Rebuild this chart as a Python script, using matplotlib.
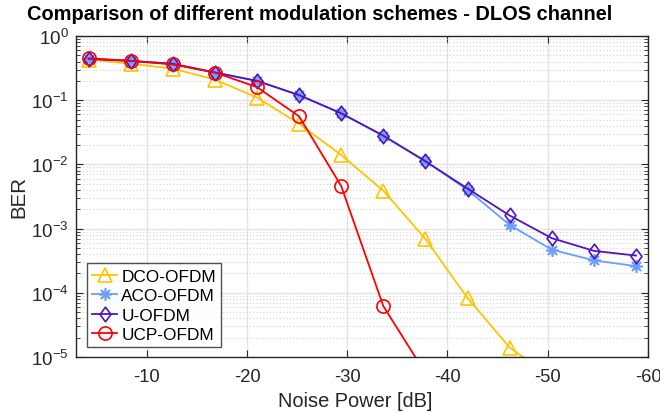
import numpy as np
import matplotlib
matplotlib.use("Agg")
import matplotlib.pyplot as plt
from matplotlib.path import Path
from matplotlib.ticker import LogLocator, NullFormatter

plt.rcParams['font.family'] = ['Liberation Sans', 'DejaVu Sans']
plt.rcParams['mathtext.fontset'] = 'custom'
plt.rcParams['mathtext.rm'] = 'Liberation Sans'
plt.rcParams['axes.unicode_minus'] = False

# noise power [dB]
noise_db = [-4.2, -8.4, -12.6, -16.8, -21.0, -25.2, -29.4, -33.6, -37.8,
            -42.0, -46.2, -50.4, -54.6, -58.8]

ber_dco = [0.43, 0.37, 0.31, 0.21, 0.11, 0.043, 0.014, 0.0039, 6.9e-4,
           8.3e-5, 1.4e-5, 4.9e-6]
ber_aco = [0.44, 0.41, 0.37, 0.27, 0.20, 0.12, 0.0625, 0.028, 0.0112,
           0.0040, 1.14e-3, 4.7e-4, 3.2e-4, 2.6e-4]
ber_u = [0.44, 0.41, 0.37, 0.27, 0.20, 0.12, 0.0625, 0.028, 0.0112,
         0.0042, 1.6e-3, 7.1e-4, 4.5e-4, 3.8e-4]
ber_ucp = [0.45, 0.41, 0.36, 0.27, 0.16, 0.056, 4.6e-3, 6.2e-5, 5.6e-6]

c_dco = '#FFC400'
c_aco = '#6A9EFF'
c_u = '#4F12C4'
c_ucp = '#FF0000'

# matlab-like diamond, a bit taller than wide
diamond = Path([(0, 1), (0.75, 0), (0, -1), (-0.75, 0), (0, 1)],
               [Path.MOVETO, Path.LINETO, Path.LINETO, Path.LINETO, Path.CLOSEPOLY])

fig = plt.figure(figsize=(6.6, 4.14), dpi=100)
ax = fig.add_axes([0.1152, 0.1353, 0.8666, 0.7753])

ax.semilogy(noise_db[:len(ber_dco)], ber_dco, color=c_dco, marker='^', ms=10,
            mfc='none', mew=1.2, lw=1.3, label='DCO-OFDM')
ax.semilogy(noise_db, ber_aco, color=c_aco, marker=(8, 2, 0), ms=9,
            mew=1.2, lw=1.3, label='ACO-OFDM')
ax.semilogy(noise_db, ber_u, color=c_u, marker=diamond, ms=10.5,
            mfc='none', mew=1.2, lw=1.3, label='U-OFDM')
ax.semilogy(noise_db[:len(ber_ucp)], ber_ucp, color=c_ucp, marker='o', ms=9.5,
            mfc='none', mew=1.2, lw=1.3, label='UCP-OFDM')

ax.set_xlim(-2.95, -60)
ax.set_ylim(1e-5, 1)
ax.set_xticks([-10, -20, -30, -40, -50, -60])
ax.yaxis.set_major_locator(LogLocator(base=10, numticks=10))
ax.yaxis.set_minor_locator(LogLocator(base=10, subs=np.arange(2, 10), numticks=20))
ax.yaxis.set_minor_formatter(NullFormatter())

ax.grid(True, which='major', color='#e3e3e3', lw=1.0, ls='-')
ax.grid(True, which='minor', axis='y', color='#d4d4d4', lw=0.8, ls=(0, (1, 2)))
ax.set_axisbelow(True)

for s in ax.spines.values():
    s.set_color('#262626')
    s.set_linewidth(1.0)
ax.tick_params(which='both', direction='in', top=True, right=True,
               colors='#262626', labelcolor='#262626')
ax.tick_params(which='major', length=5)
ax.tick_params(which='minor', length=3)
ax.tick_params(axis='x', pad=8, labelsize=13.2)
ax.tick_params(axis='y', pad=5, labelsize=13.6)

ax.set_xlabel('Noise Power [dB]', fontsize=14.4, color='#262626')
ax.xaxis.set_label_coords(0.488, -0.105)
ax.set_ylabel('BER', fontsize=14.8, color='#262626')
ax.yaxis.set_label_coords(-0.083, 0.5)
fig.text(0.484, 0.988, 'Comparison of different modulation schemes - DLOS channel',
         ha='center', va='top', fontsize=14.4, fontweight='bold')

leg = ax.legend(loc='lower left', bbox_to_anchor=(0.019, 0.03), fontsize=12.4,
                frameon=True, fancybox=False, handlelength=1.45,
                handletextpad=0.25, borderpad=0.3, labelspacing=0.26,
                borderaxespad=0)
leg.get_frame().set_edgecolor('#262626')
leg.get_frame().set_linewidth(1.0)

fig.savefig('out.png', dpi=100)
